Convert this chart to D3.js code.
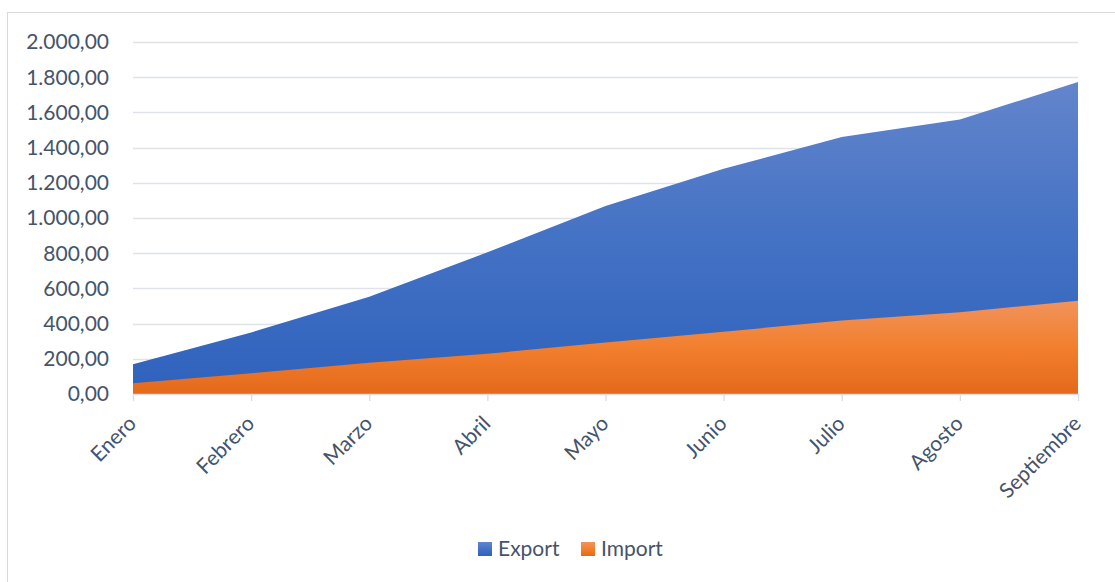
<!DOCTYPE html>
<html>
<head>
<meta charset="utf-8">
<script src="https://cdn.jsdelivr.net/npm/d3@7"></script>
<style>
  body { margin: 0; background: #fff; }
  text { font-family: Lato, "Open Sans", sans-serif; fill: #44546a; }
</style>
</head>
<body>
<div id="graph"></div>
<script>
var months = ["Enero", "Febrero", "Marzo", "Abril", "Mayo", "Junio", "Julio", "Agosto", "Septiembre"];
var exportValues = [169, 350, 553, 805, 1068, 1280, 1460, 1559, 1773];
var importValues = [61, 118, 178, 228, 293, 354, 417, 464, 530];
var yTicks = [0, 200, 400, 600, 800, 1000, 1200, 1400, 1600, 1800, 2000];

var W = 1115, H = 582;
var margin = {top: 42, right: 37, bottom: 188, left: 133},
    width = W - margin.left - margin.right,
    height = H - margin.top - margin.bottom;

var root = d3.select('#graph').append("svg")
    .attr("width", W)
    .attr("height", H);

// chart border
root.append("rect")
    .attr("x", 7.5).attr("y", 12.5)
    .attr("width", W + 10).attr("height", H + 10)
    .attr("fill", "none")
    .attr("stroke", "#d9d9d9");

var defs = root.append("defs");
function grad(id, top, mid, bottom) {
  var g = defs.append("linearGradient").attr("id", id)
      .attr("x1", 0).attr("y1", 0).attr("x2", 0).attr("y2", 1);
  g.append("stop").attr("offset", "0%").attr("stop-color", top);
  g.append("stop").attr("offset", "50%").attr("stop-color", mid);
  g.append("stop").attr("offset", "100%").attr("stop-color", bottom);
}
grad("gExport", "#6385cc", "#4472c4", "#2f62bd");
grad("gImport", "#f1935c", "#f27f2e", "#e4691a");

var svg = root.append("g")
    .attr("transform", "translate(" + margin.left + "," + margin.top + ")");

var x = d3.scalePoint().domain(months).range([0, width]);
var y = d3.scaleLinear().domain([0, 2000]).range([height, 0]);

// gridlines
svg.selectAll(".grid").data(yTicks.slice(1))
  .enter().append("line")
  .attr("x1", 0).attr("x2", width)
  .attr("y1", function (d) { return Math.round(y(d)) + 0.5; })
  .attr("y2", function (d) { return Math.round(y(d)) + 0.5; })
  .attr("stroke", "#dfe2e8").attr("stroke-width", 1.3);

var area = function (vals) {
  return d3.area()
    .x(function (d, i) { return x(months[i]); })
    .y0(height)
    .y1(function (d) { return y(d); })(vals);
};

svg.append("path").attr("d", area(exportValues)).attr("fill", "url(#gExport)");
svg.append("path").attr("d", area(importValues)).attr("fill", "url(#gImport)");

// y axis labels
var fmt = d3.formatLocale({decimal: ",", thousands: ".", grouping: [3], currency: ["", ""]}).format(",.2f");
svg.selectAll(".ylab").data(yTicks)
  .enter().append("text")
  .attr("x", -24)
  .attr("y", function (d) { return y(d); })
  .attr("dy", "0.35em")
  .attr("text-anchor", "end")
  .style("font-size", "21px")
  .text(function (d) { return fmt(d); });

// x axis
var xAxis = svg.append("g")
    .attr("transform", "translate(0," + height + ")")
    .call(d3.axisBottom(x).tickSize(7).tickPadding(8));
xAxis.select(".domain").attr("stroke", "#d9dde3").attr("stroke-width", 1.3).attr("d", "M0,0.5H" + width);
xAxis.selectAll(".tick line").attr("stroke", "#d9dde3").attr("stroke-width", 1.3);
xAxis.selectAll(".tick text")
  .style("font-size", "21px")
  .style("font-family", "Lato, 'Open Sans', sans-serif")
  .attr("fill", "#44546a")
  .attr("text-anchor", "end")
  .attr("dy", "0.3em")
  .attr("transform", "translate(-9,18) rotate(-45)")
  .attr("x", 0).attr("y", 12);

// legend
var legend = [{name: "Export", fill: "url(#gExport)"}, {name: "Import", fill: "url(#gImport)"}];
var lg = root.append("g").attr("transform", "translate(478,549)");
var lx = [0, 103];
legend.forEach(function (d, i) {
  var g = lg.append("g").attr("transform", "translate(" + lx[i] + ",0)");
  g.append("rect").attr("x", 0).attr("y", -7).attr("width", 14).attr("height", 14).attr("fill", d.fill);
  g.append("text").attr("x", 20).attr("y", 0).attr("dy", "0.35em")
    .style("font-size", "21px").text(d.name);
});
</script>
</body>
</html>
